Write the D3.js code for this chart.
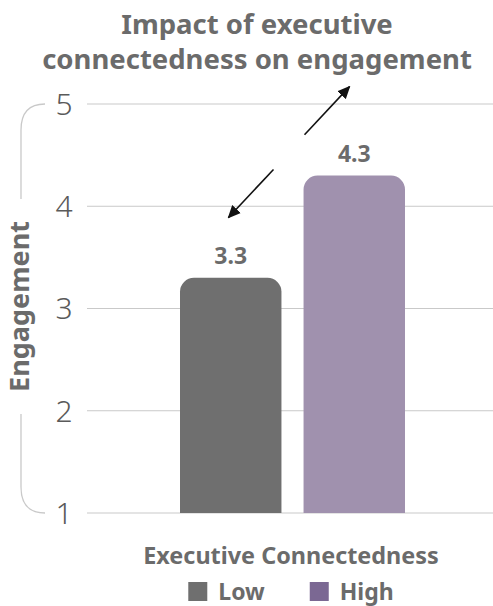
<!DOCTYPE html>
<html>
<head>
<meta charset="utf-8">
<script src="https://cdn.jsdelivr.net/npm/d3@7"></script>
<style>
  html, body { margin: 0; padding: 0; background: #fff; }
  svg { display: block; }
  text { font-family: "Noto Sans", "Open Sans", sans-serif; }
</style>
</head>
<body>
<svg id="chart" width="493" height="606"></svg>
<script>
// Engagement by level of executive connectedness
const categories = ["Low", "High"];
const values = [3.3, 4.3];
const valueLabels = ["3.3", "4.3"];
const yTicks = [1, 2, 3, 4, 5];
const titleLines = ["Impact of executive", "connectedness on engagement"];
const yTitle = "Engagement";
const xTitle = "Executive Connectedness";
const barColors = ["#6f6f6f", "#a091ae"];
const legendColors = ["#6f6f6f", "#7b6893"];

// Double-headed annotation between the two bars (y in engagement units,
// dx in pixels from the gap between the bars)
const arrowUp = { from: { dx: 12, y: 4.70 }, to: { dx: 57, y: 5.17 } };
const arrowDown = { from: { dx: -19, y: 4.36 }, to: { dx: -64, y: 3.89 } };

const svg = d3.select("#chart");
const W = 493;
const textGray = "#6b6b6b";
const gridGray = "#c9c9c9";

const y = d3.scaleLinear().domain([1, 5]).range([513, 104]);
const x = d3.scaleBand().domain(categories).range([180, 405]).paddingInner(22 / 123).paddingOuter(0);

// defs: arrowhead
svg.append("defs").append("marker")
  .attr("id", "head")
  .attr("viewBox", "0 0 10 10")
  .attr("refX", 9).attr("refY", 5)
  .attr("markerWidth", 13).attr("markerHeight", 13)
  .attr("markerUnits", "userSpaceOnUse")
  .attr("orient", "auto")
  .append("path").attr("d", "M0,0.5 L10,5 L0,9.5 Z").attr("fill", "#111");

// Title
svg.append("g").selectAll("text").data(titleLines).join("text")
  .attr("x", 257).attr("y", (d, i) => 34 + i * 35)
  .attr("text-anchor", "middle")
  .attr("font-size", 27.5).attr("font-weight", 700)
  .attr("fill", textGray)
  .text(d => d);

// Gridlines
svg.append("g").selectAll("line").data(yTicks).join("line")
  .attr("x1", 87).attr("x2", W)
  .attr("y1", d => y(d)).attr("y2", d => y(d))
  .attr("stroke", gridGray).attr("stroke-width", 1.2);

// Tick labels
svg.append("g").selectAll("text").data(yTicks).join("text")
  .attr("x", 64).attr("y", d => y(d))
  .attr("dy", "0.36em")
  .attr("text-anchor", "middle")
  .attr("font-size", 30).attr("font-weight", 300)
  .attr("fill", "#5a5a5a")
  .text(d => d);

// Bracket along the y axis, broken around the title
const bx = 21, r = 26, gapTop = 199, gapBottom = 414;
const bracket = d3.path();
bracket.moveTo(45, y(5));
bracket.quadraticCurveTo(bx, y(5), bx, y(5) + r);
bracket.lineTo(bx, gapTop);
bracket.moveTo(bx, gapBottom);
bracket.lineTo(bx, y(1) - r);
bracket.quadraticCurveTo(bx, y(1), 45, y(1));
svg.append("path").attr("d", bracket.toString())
  .attr("fill", "none").attr("stroke", gridGray).attr("stroke-width", 1.3);

svg.append("text")
  .attr("transform", `translate(29,${(gapTop + gapBottom) / 2}) rotate(-90)`)
  .attr("text-anchor", "middle")
  .attr("font-size", 27).attr("font-weight", 700)
  .attr("fill", textGray)
  .text(yTitle);

// Bars with rounded top corners
function topRoundedBar(x0, w, yTop, yBase, rad) {
  const p = d3.path();
  p.moveTo(x0, yBase);
  p.lineTo(x0, yTop + rad);
  p.arcTo(x0, yTop, x0 + rad, yTop, rad);
  p.lineTo(x0 + w - rad, yTop);
  p.arcTo(x0 + w, yTop, x0 + w, yTop + rad, rad);
  p.lineTo(x0 + w, yBase);
  p.closePath();
  return p.toString();
}
const data = categories.map((c, i) => ({ c, v: values[i], label: valueLabels[i], color: barColors[i] }));

svg.append("g").selectAll("path").data(data).join("path")
  .attr("d", d => topRoundedBar(x(d.c), x.bandwidth(), y(d.v), y(1), 14))
  .attr("fill", d => d.color);

svg.append("g").selectAll("text").data(data).join("text")
  .attr("x", d => x(d.c) + x.bandwidth() / 2)
  .attr("y", d => y(d.v) - 14)
  .attr("text-anchor", "middle")
  .attr("font-size", 23).attr("font-weight", 700)
  .attr("fill", textGray)
  .text(d => d.label);

// Annotation arrows
const gapX = (x("Low") + x.bandwidth() + x("High")) / 2;
[arrowUp, arrowDown].forEach(a => {
  svg.append("line")
    .attr("x1", gapX + a.from.dx).attr("y1", y(a.from.y))
    .attr("x2", gapX + a.to.dx).attr("y2", y(a.to.y))
    .attr("stroke", "#111").attr("stroke-width", 1.6)
    .attr("marker-end", "url(#head)");
});

// X axis title
svg.append("text")
  .attr("x", 291).attr("y", 564)
  .attr("text-anchor", "middle")
  .attr("font-size", 23.4).attr("font-weight", 700)
  .attr("fill", textGray)
  .text(xTitle);

// Legend
const legend = svg.append("g");
const items = legend.selectAll("g").data(categories).join("g");
items.append("rect")
  .attr("width", 19).attr("height", 19)
  .attr("y", 582)
  .attr("fill", (d, i) => legendColors[i]);
items.append("text")
  .attr("x", 30).attr("y", 600)
  .attr("font-size", 23).attr("font-weight", 700)
  .attr("fill", textGray)
  .text(d => d);
// lay out legend items horizontally, centred under the chart
let cx = 0;
const offsets = [];
items.each(function (d, i) {
  const tw = d3.select(this).select("text").node().getComputedTextLength();
  offsets.push(cx);
  cx += 30 + tw + (i < categories.length - 1 ? 45 : 0);
});
const start = 291 - cx / 2;
items.attr("transform", (d, i) => `translate(${start + offsets[i]},0)`);
</script>
</body>
</html>
